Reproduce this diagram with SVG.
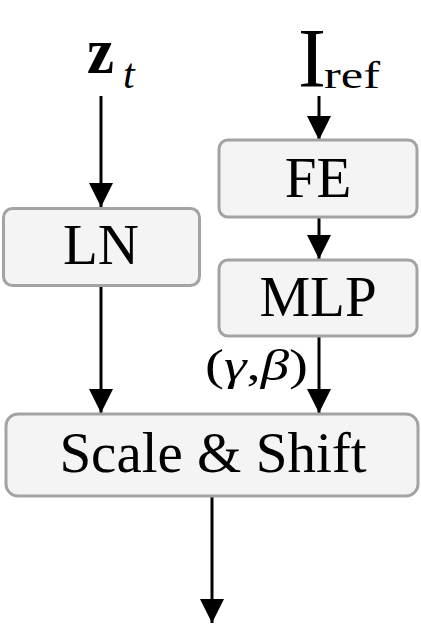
<svg xmlns="http://www.w3.org/2000/svg" width="421" height="625" viewBox="0 0 421 625">
<style>
.box{fill:#f4f4f4;stroke:#a3a3a3;stroke-width:3}
.lbl{font-family:"Liberation Serif","Times New Roman",serif;font-size:57px;fill:#000;text-anchor:middle}
.math{font-family:"Liberation Serif","Times New Roman",serif;fill:#000}
.edge{stroke:#000;stroke-width:3;fill:none}
</style>
<defs>
<marker id="ah" markerUnits="userSpaceOnUse" markerWidth="24" markerHeight="24" refX="22" refY="11" orient="auto" viewBox="0 0 22 22">
<path d="M0,0 L22,11 L0,22 Z" fill="#000"/>
</marker>
</defs>
<rect width="421" height="625" fill="#fff"/>
<g id="connectors">
<line class="edge" x1="101" y1="96" x2="101" y2="207" marker-end="url(#ah)"/>
<line class="edge" x1="319" y1="96" x2="319" y2="140" marker-end="url(#ah)"/>
<line class="edge" x1="319" y1="218" x2="319" y2="259" marker-end="url(#ah)"/>
<line class="edge" x1="101" y1="287" x2="101" y2="413" marker-end="url(#ah)"/>
<line class="edge" x1="319" y1="337" x2="319" y2="413" marker-end="url(#ah)"/>
<line class="edge" x1="212" y1="497" x2="212" y2="623" marker-end="url(#ah)"/>
<text class="math" x="205" y="380" font-size="44" textLength="103" lengthAdjust="spacingAndGlyphs"><tspan>(</tspan><tspan font-style="italic">γ</tspan><tspan>,</tspan><tspan font-style="italic">β</tspan><tspan>)</tspan></text>
</g>
<g id="zt">
<text class="math" x="87" y="73" font-size="66" font-weight="bold" textLength="27" lengthAdjust="spacingAndGlyphs">z</text>
<text class="math" x="123" y="88" font-size="42" font-style="italic">t</text>
</g>
<g id="iref">
<text class="math" x="298" y="87" font-size="84">I</text>
<text class="math" x="324" y="88" font-size="38" textLength="56" lengthAdjust="spacingAndGlyphs">ref</text>
</g>
<g id="fe">
<rect class="box" x="219" y="140" width="198" height="77" rx="9"/>
<text class="lbl" x="318" y="197">FE</text>
</g>
<g id="ln">
<rect class="box" x="3.5" y="208.5" width="196" height="77" rx="9"/>
<text class="lbl" x="101" y="264">LN</text>
</g>
<g id="mlp">
<rect class="box" x="219" y="260" width="198" height="76" rx="9"/>
<text class="lbl" x="318" y="316">MLP</text>
</g>
<g id="scale">
<rect class="box" x="6" y="414" width="412" height="82" rx="12"/>
<text class="lbl" x="213" y="472">Scale &amp; Shift</text>
</g>
</svg>
